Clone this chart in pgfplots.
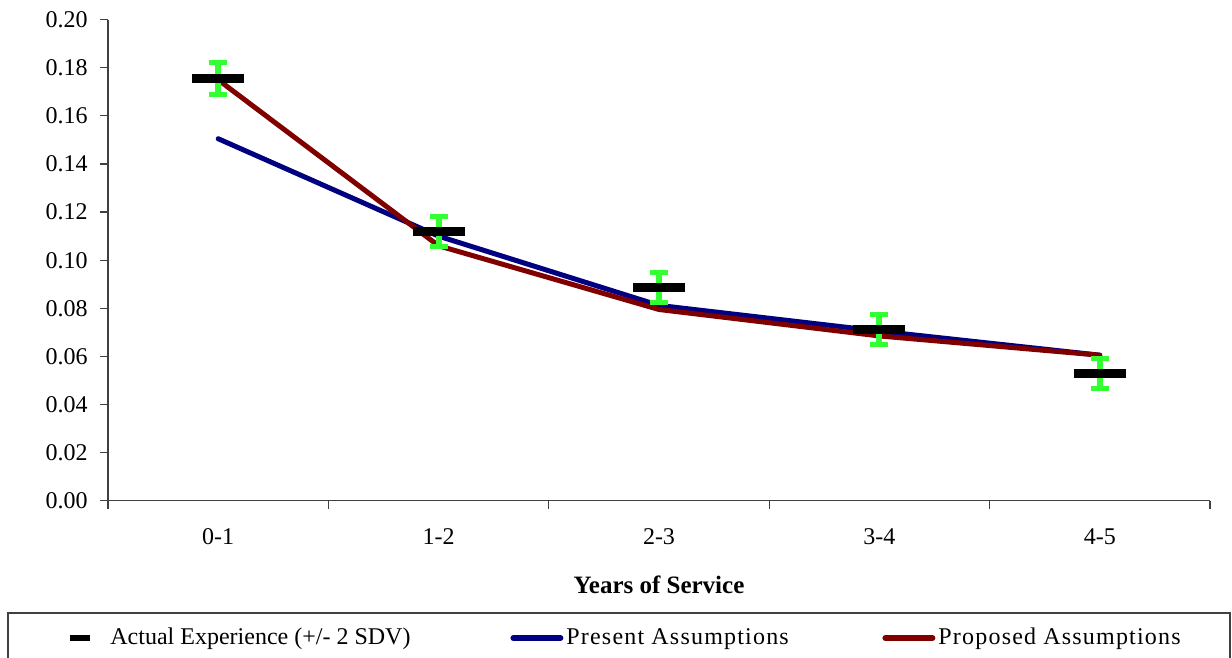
\documentclass[border=0pt]{standalone}
\usepackage{fontspec}
\setmainfont{Liberation Serif}
\usepackage{pgfplots}
\pgfplotsset{compat=1.18}
\definecolor{navyline}{HTML}{000080}
\definecolor{maroonline}{HTML}{800000}
\definecolor{errgreen}{HTML}{33FF33}

\begin{document}
\begin{tikzpicture}
\useasboundingbox (0,0) rectangle (616pt,329pt);
\begin{axis}[
  at={(54pt,78.65pt)}, anchor=south west,
  scale only axis, width=551pt, height=240.5pt,
  xmin=-0.5, xmax=4.5, ymin=0, ymax=0.2,
  axis x line=bottom, axis y line=left,
  axis line style={-, black!75, line width=0.6pt},
  tick style={black!75, line width=0.6pt},
  tick align=outside, major tick length=4pt,
  xtick={-0.5,0.5,1.5,2.5,3.5,4.5},
  xticklabels={0-1,1-2,2-3,3-4,4-5},
  x tick label as interval,
  ytick={0,0.02,0.04,0.06,0.08,0.1,0.12,0.14,0.16,0.18,0.2},
  /pgf/number format/assume math mode=true,
  yticklabel style={xshift=-2.6pt,
    /pgf/number format/fixed,
    /pgf/number format/fixed zerofill,
    /pgf/number format/precision=2},
  xticklabel style={yshift=-6.5pt},
  ticklabel style={font=\fontsize{12}{14}\selectfont},
  xlabel={\bfseries Years of Service},
  xlabel style={font=\fontsize{12.5}{15}\selectfont,
    at={(axis description cs:0.5,0)}, anchor=center, yshift=-42.15pt},
  legend columns=3,
  legend style={at={(axis description cs:-0.0508,-0.2855)}, anchor=west,
    draw=none, fill=none, inner sep=0pt,
    nodes={inner sep=0pt},
    font=\fontsize{12}{14}\selectfont,
    /tikz/every even column/.append style={column sep=0pt}},
]
% model lines
\addplot[navyline, line width=2.5pt, line join=round, line cap=round, forget plot]
  coordinates {(0,0.1505) (1,0.1100) (2,0.0812) (3,0.0705) (4,0.0605)};
\addplot[maroonline, line width=2.5pt, line join=round, line cap=round, forget plot]
  coordinates {(0,0.1750) (1,0.1060) (2,0.0795) (3,0.0685) (4,0.0605)};
% actual experience with +/- 2 SDV
\addplot[only marks, mark=-, mark size=13pt,
  mark options={black, line width=4.5pt},
  legend image code/.code={
    \path[draw=none, fill=none] (0pt,-2pt) rectangle (26.5pt,2pt);
    \draw[black, line width=3pt] (9pt,0pt) -- (19pt,0pt);},
  error bars/.cd, y dir=both, y explicit,
  error bar style={errgreen, line width=3pt},
  error mark options={errgreen, line width=2.5pt, mark size=4.5pt, rotate=90}]
  coordinates {
    (0,0.1755) +- (0,0.0067)
    (1,0.1118) +- (0,0.0062)
    (2,0.0887) +- (0,0.0061)
    (3,0.0712) +- (0,0.0064)
    (4,0.0530) +- (0,0.0062)
  };
\addlegendentry{\makebox[202.5pt][l]{\hspace{2.5pt}Actual Experience (+/- 2 SDV)}}
\addlegendimage{legend image code/.code={
  \path[draw=none, fill=none] (0pt,-2pt) rectangle (26.5pt,2pt);
  \draw[navyline, line width=3pt, line cap=round] (1.5pt,0pt) -- (25pt,0pt);}}
\addlegendentry{\makebox[159.5pt][l]{\hspace{1.5pt}\addfontfeature{LetterSpace=5}Present Assumptions}}
\addlegendimage{legend image code/.code={
  \path[draw=none, fill=none] (0pt,-2pt) rectangle (26.5pt,2pt);
  \draw[maroonline, line width=3pt, line cap=round] (1.5pt,0pt) -- (25pt,0pt);}}
\addlegendentry{\makebox[140pt][l]{\hspace{1.5pt}\addfontfeature{LetterSpace=5}Proposed Assumptions}}
\end{axis}
\draw[black!75, line width=0.6pt] (4pt,-5pt) rectangle (615pt,22.5pt);
\end{tikzpicture}
\end{document}
